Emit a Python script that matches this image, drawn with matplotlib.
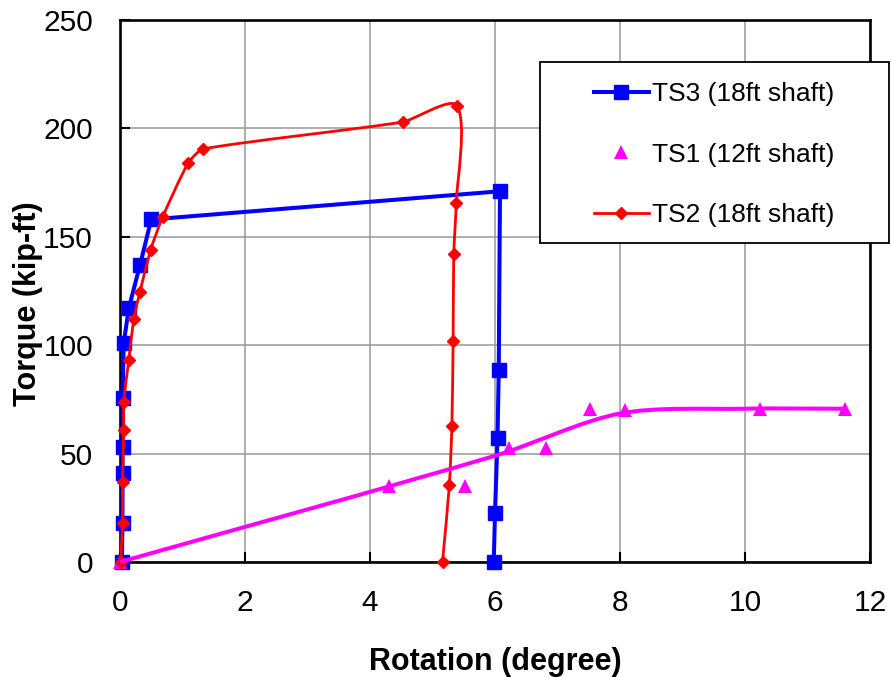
import matplotlib
matplotlib.use('Agg')
import matplotlib.pyplot as plt
import numpy as np
from matplotlib.path import Path
from matplotlib.patches import PathPatch, Rectangle
from matplotlib.lines import Line2D

plt.rcParams['font.family'] = ['Liberation Sans', 'DejaVu Sans']

# TS3 (18ft shaft)
ts3_rot = [0.03, 0.04, 0.04, 0.04, 0.04, 0.06, 0.14, 0.32, 0.50, 6.08, 6.06, 6.04, 6.00, 5.98]
ts3_torque = [0, 18, 41, 53, 75.5, 101, 117, 137, 158, 171, 88.5, 57, 22.5, 0]

# TS1 (12ft shaft) measured points
ts1_rot = [0.0, 4.31, 5.52, 6.23, 6.82, 7.52, 8.08, 10.24, 11.6]
ts1_torque = [0, 35, 35, 52.5, 52.5, 70.5, 70, 70.5, 70.5]

# TS1 fitted curve
fit_rot = [0.0, 6.0, 8.0, 10.0, 11.6]
fit_torque = [0, 49, 68.5, 70.7, 70.7]

# TS2 (18ft shaft)
ts2_rot = [0.01, 0.04, 0.04, 0.06, 0.06, 0.14, 0.22, 0.32, 0.49, 0.68, 1.09, 1.33,
           4.53, 5.39, 5.38, 5.34, 5.33, 5.31, 5.27, 5.16]
ts2_torque = [0, 18, 37, 61, 74, 93, 112, 124.7, 144, 159, 184, 190.5,
              203, 210.5, 165.7, 142, 102, 62.7, 35.5, 0]

x_ticks = [0, 2, 4, 6, 8, 10, 12]
y_ticks = [0, 50, 100, 150, 200, 250]


def smooth_path(ax, x, y, t=0.3):
    # smoothed line like a spreadsheet chart, built in screen space
    pts = ax.transData.transform(np.column_stack([x, y]))
    n = len(pts)
    verts = [pts[0]]
    codes = [Path.MOVETO]
    for i in range(n - 1):
        p0 = pts[i - 1] if i > 0 else pts[i]
        p1 = pts[i]
        p2 = pts[i + 1]
        p3 = pts[i + 2] if i + 2 < n else pts[i + 1]
        seg = np.hypot(*(p2 - p1))
        d1 = p2 - p0
        d1 = d1 / np.hypot(*d1)
        d2 = p3 - p1
        d2 = d2 / np.hypot(*d2)
        verts += [p1 + d1 * seg * t, p2 - d2 * seg * t, p2]
        codes += [Path.CURVE4] * 3
    verts = ax.transData.inverted().transform(np.array(verts))
    return Path(verts, codes)


fig = plt.figure(figsize=(8.91, 6.77), dpi=100)
ax = fig.add_axes([120 / 891, 115 / 677, 750 / 891, 542 / 677])
ax.set_xlim(0, 12)
ax.set_ylim(0, 250)

blue = '#0000ff'
red = '#ff0000'
pink = '#ff00ff'

ax.plot(ts3_rot, ts3_torque, '-', color=blue, lw=2.9, marker='s', ms=9.5, mew=1,
        clip_on=False, zorder=3)
ax.plot(ts1_rot, ts1_torque, ls='none', color=pink, marker='^', ms=10.5, mew=0,
        clip_on=False, zorder=4)
ax.add_patch(PathPatch(smooth_path(ax, ts2_rot, ts2_torque, t=0.2), fill=False, ec=red,
                       lw=2, clip_on=False, zorder=5))
ax.plot(ts2_rot, ts2_torque, ls='none', color=red, marker='D', ms=6.3, mew=1,
        clip_on=False, zorder=5)
ax.add_patch(PathPatch(smooth_path(ax, fit_rot, fit_torque), fill=False, ec=pink, lw=2.9,
                       clip_on=False, zorder=6))

ax.set_xticks(x_ticks)
ax.set_yticks(y_ticks)
ax.grid(True, color='#999999', lw=1.1)
ax.set_axisbelow(True)
for s in ax.spines.values():
    s.set_linewidth(1.9)
ax.tick_params(direction='in', length=7, width=1.5, labelsize=21.5, pad=19.5)

ax.set_xlabel('Rotation (degree)', fontsize=22, fontweight='bold')
ax.set_ylabel('Torque (kip-ft)', fontsize=22, fontweight='bold')
ax.xaxis.set_label_coords(0.5, -0.157)
ax.yaxis.set_label_coords(-0.1027, 0.476)

# legend box
fig.add_artist(Rectangle((540 / 891, 434 / 677), 349 / 891, 181 / 677,
                         transform=fig.transFigure, facecolor='white',
                         edgecolor='black', lw=1.3, zorder=5))
handles = [
    Line2D([], [], color=blue, lw=2.9, marker='s', ms=9.5, mew=1),
    Line2D([], [], ls='none', color=pink, marker='^', ms=10.5, mew=0),
    Line2D([], [], color=red, lw=2, marker='D', ms=6.3, mew=1),
]
labels = ['TS3 (18ft shaft)', 'TS1 (12ft shaft)', 'TS2 (18ft shaft)']
leg = fig.legend(handles, labels, loc='upper left',
                 bbox_to_anchor=(594 / 891, 1 - 82.5 / 677), frameon=False,
                 fontsize=19, borderpad=0, borderaxespad=0, handlelength=2.08,
                 handletextpad=0.12, labelspacing=1.37)
leg.set_zorder(6)

fig.savefig('out.png', dpi=100)
